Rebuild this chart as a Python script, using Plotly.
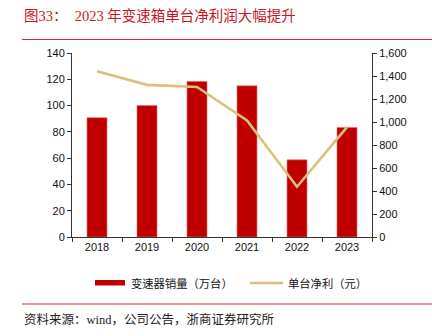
import plotly.graph_objects as go

years = ["2018", "2019", "2020", "2021", "2022", "2023"]
sales = [90.8, 100.0, 118.4, 115.0, 58.7, 83.4]          # 变速器销量（万台）
profit = [1442, 1323, 1305, 1014, 437, 955]              # 单台净利（元）
left_ticks = [0, 20, 40, 60, 80, 100, 120, 140]
right_ticks = [0, 200, 400, 600, 800, 1000, 1200, 1400, 1600]

BAR = "#C00000"
LINE = "#DCC07A"
RED = "#D42A2A"

fig = go.Figure()
fig.add_trace(go.Bar(x=years, y=sales, marker=dict(color=BAR, line=dict(color="#E07070", width=0.6)),
                     width=0.4, showlegend=False, yaxis="y"))
fig.add_trace(go.Scatter(x=years, y=profit, mode="lines", line=dict(color=LINE, width=2.6),
                         showlegend=False, yaxis="y2"))

tickfont = dict(family="Liberation Sans, Arial", size=11, color="#111")
fig.update_layout(
    width=432, height=336,
    margin=dict(l=72, r=60, t=53, b=99),
    paper_bgcolor="white", plot_bgcolor="white",
    xaxis=dict(type="category", showline=True, linecolor="#333", linewidth=1,
               ticks="outside", tickson="boundaries", ticklen=4, tickcolor="#333",
               tickfont=tickfont, showgrid=False, zeroline=False),
    yaxis=dict(range=[0, 140], tickvals=left_ticks, showline=True, linecolor="#333", linewidth=1,
               ticks="outside", ticklen=4, tickcolor="#333", tickfont=tickfont,
               showgrid=False, zeroline=False),
    yaxis2=dict(range=[0, 1600], tickvals=right_ticks, overlaying="y", side="right",
                showline=True, linecolor="#333", linewidth=1, ticks="outside", ticklen=4,
                tickcolor="#333", tickfont=tickfont, tickformat=",d",
                showgrid=False, zeroline=False),
    bargap=0.6,
)

# plot area spans x in [72, 372], y in [53, 237] pixels
def pxp(x): return (x - 72) / 300
def pyp(y): return (237 - y) / 184

fig.add_annotation(x=pxp(22), y=pyp(16), xref="paper", yref="paper", xanchor="left", yanchor="middle",
                   text="图33：  2023 年变速箱单台净利润大幅提升", showarrow=False,
                   font=dict(family="Liberation Serif, Noto Sans CJK SC", size=14.5, color="#C8161D"))
fig.add_shape(type="line", xref="paper", yref="paper", x0=pxp(22), x1=pxp(432), y0=pyp(39.5), y1=pyp(39.5),
              line=dict(color=RED, width=1))
fig.add_shape(type="line", xref="paper", yref="paper", x0=pxp(22), x1=pxp(432), y0=pyp(304), y1=pyp(304),
              line=dict(color=RED, width=1))
fig.add_annotation(x=pxp(22), y=pyp(319), xref="paper", yref="paper", xanchor="left", yanchor="middle",
                   text="资料来源：wind，公司公告，浙商证券研究所", showarrow=False,
                   font=dict(family="Liberation Serif, Noto Sans CJK SC", size=12.5, color="#222"))

# Legend
fig.add_shape(type="rect", xref="paper", yref="paper", x0=pxp(95), x1=pxp(125), y0=pyp(285.5), y1=pyp(280),
              fillcolor=BAR, line=dict(width=0))
fig.add_annotation(x=pxp(129), y=pyp(283), xref="paper", yref="paper", xanchor="left", yanchor="middle",
                   text="变速器销量（万台）", showarrow=False,
                   font=dict(family="Noto Sans CJK SC", size=11.3, color="#111"))
fig.add_shape(type="line", xref="paper", yref="paper", x0=pxp(250), x1=pxp(283), y0=pyp(283), y1=pyp(283),
              line=dict(color=LINE, width=2.5))
fig.add_annotation(x=pxp(286), y=pyp(283), xref="paper", yref="paper", xanchor="left", yanchor="middle",
                   text="单台净利（元）", showarrow=False,
                   font=dict(family="Noto Sans CJK SC", size=11.3, color="#111"))

fig.write_html("out.html")
